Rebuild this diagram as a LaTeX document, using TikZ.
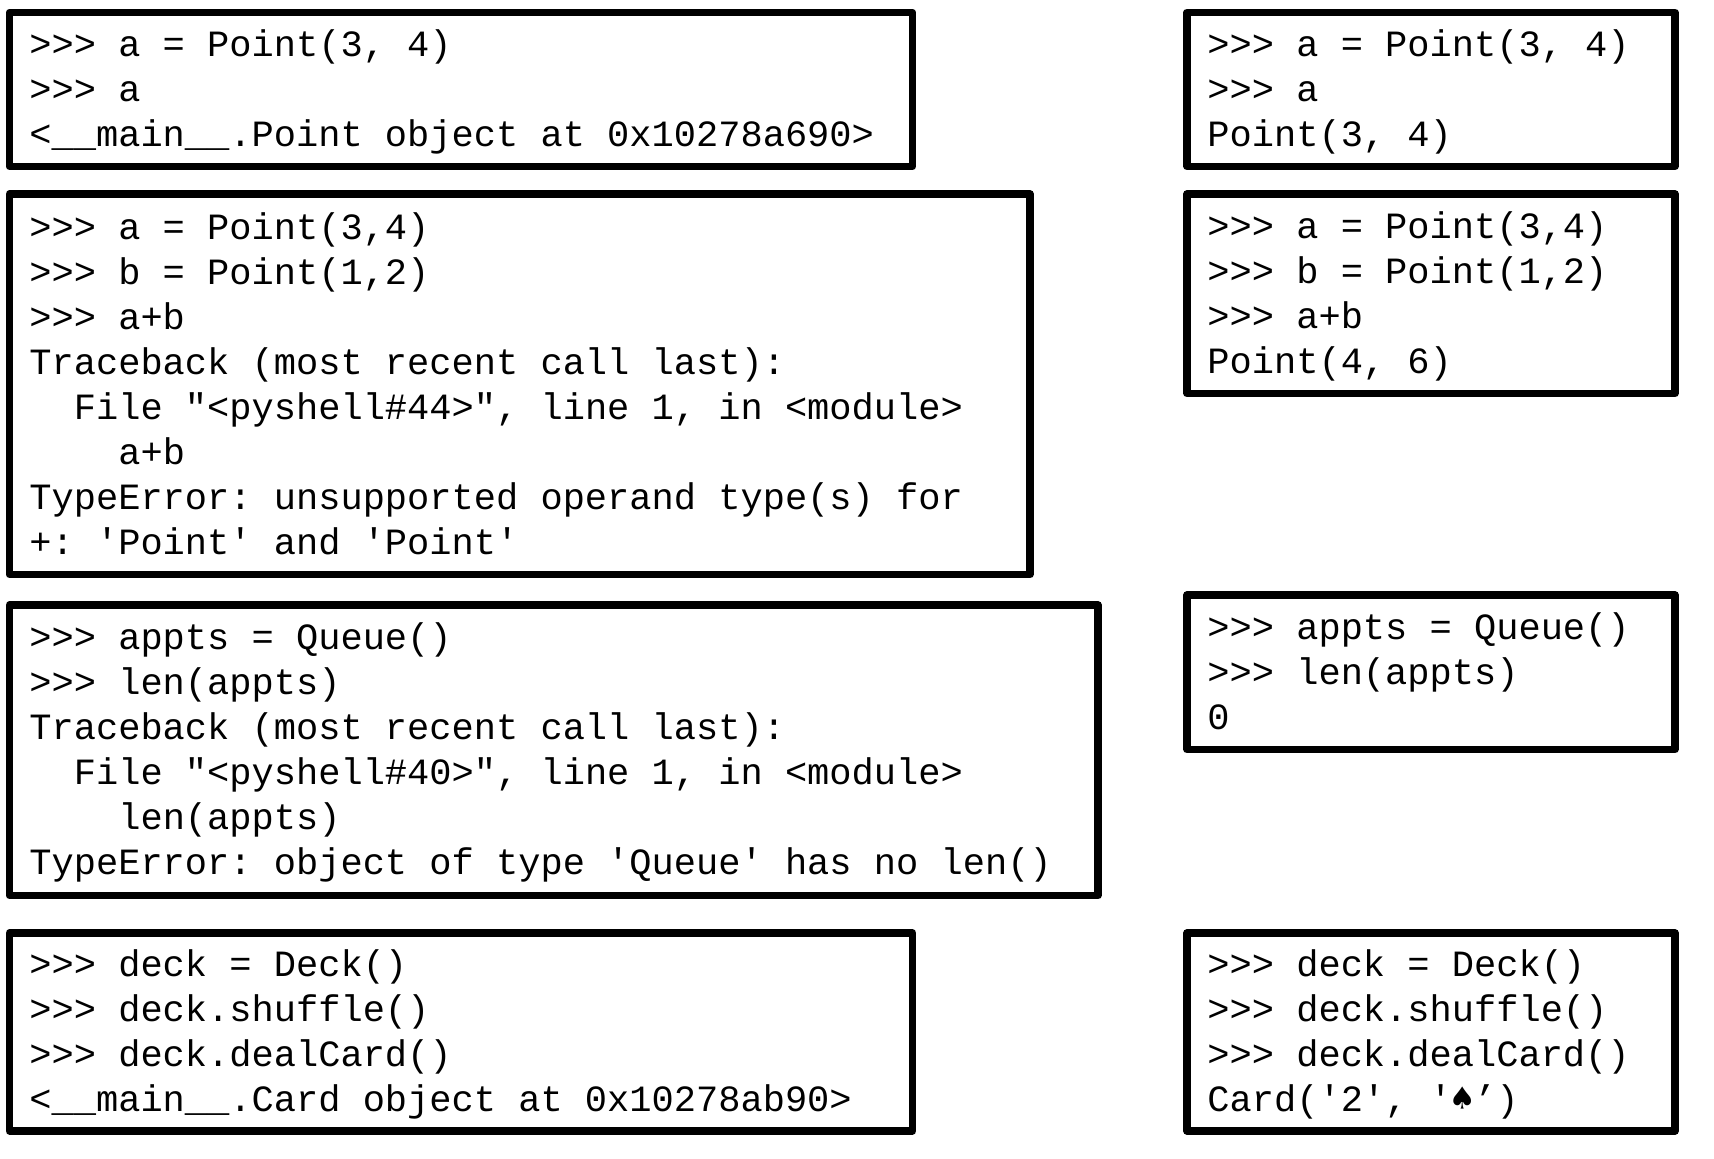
\documentclass[tikz,border=0pt]{standalone}
\usepackage{fontspec}
\newfontfamily\codefont{Liberation Mono}
\newfontfamily\spadefont{DejaVu Sans Mono}
\newcommand\us{\string_}
\newcommand\spade{\makebox[0.6em]{\spadefont ♠}}
\tikzset{
  boxline/.style={line width=3.65pt, line join=round},
  codeline/.style={anchor=base west, inner sep=0pt, font=\codefont\fontsize{18.52pt}{22.5pt}\selectfont\frenchspacing}
}
\begin{document}
\begin{tikzpicture}[x=0.5pt,y=-0.5pt]
\useasboundingbox (0,0) rectangle (1714,1159);
% boxes
\draw[boxline] (9.5,12.5) rectangle (912.5,166.5);
\draw[boxline] (9.5,194) rectangle (1030,574.5);
\draw[boxline] (9.5,605) rectangle (1098,895.5);
\draw[boxline] (9.5,933) rectangle (912.5,1131);
\draw[boxline] (1187,12.5) rectangle (1675,166.5);
\draw[boxline] (1187,194) rectangle (1675,393.5);
\draw[boxline] (1187,595) rectangle (1675,749.5);
\draw[boxline] (1187,933) rectangle (1675,1131);
% left column texts
\foreach \t [count=\i from 0] in {{>>> a = Point(3, 4)},{>>> a},{<\us\us main\us\us.Point object at 0x10278a690>}}
  \node[codeline] (L1-\i) at (29,56.5+45*\i) {\t};
\foreach \t [count=\i from 0] in {{>>> a = Point(3,4)},{>>> b = Point(1,2)},{>>> a+b},{Traceback (most recent call last):},{\ \ File "<pyshell\#44>", line 1, in <module>},{\ \ \ \ a+b},{TypeError: unsupported operand type(s) for},{+: 'Point' and 'Point'}}
  \node[codeline] (L2-\i) at (29,239.5+45*\i) {\t};
\foreach \t [count=\i from 0] in {{>>> appts = Queue()},{>>> len(appts)},{Traceback (most recent call last):},{\ \ File "<pyshell\#40>", line 1, in <module>},{\ \ \ \ len(appts)},{TypeError: object of type 'Queue' has no len()}}
  \node[codeline] (L3-\i) at (29,650+45*\i) {\t};
\foreach \t [count=\i from 0] in {{>>> deck = Deck()},{>>> deck.shuffle()},{>>> deck.dealCard()},{<\us\us main\us\us.Card object at 0x10278ab90>}}
  \node[codeline] (L4-\i) at (29,976.5+45*\i) {\t};
% right column texts
\foreach \t [count=\i from 0] in {{>>> a = Point(3, 4)},{>>> a},{Point(3, 4)}}
  \node[codeline] (R1-\i) at (1207,56.5+45*\i) {\t};
\foreach \t [count=\i from 0] in {{>>> a = Point(3,4)},{>>> b = Point(1,2)},{>>> a+b},{Point(4, 6)}}
  \node[codeline] (R2-\i) at (1207,239+45*\i) {\t};
\foreach \t [count=\i from 0] in {{>>> appts = Queue()},{>>> len(appts)},{0}}
  \node[codeline] (R3-\i) at (1207,639.5+45*\i) {\t};
\foreach \t [count=\i from 0] in {{>>> deck = Deck()},{>>> deck.shuffle()},{>>> deck.dealCard()},{Card('2', '\spade’)}}
  \node[codeline] (R4-\i) at (1207,976.5+45*\i) {\t};
\end{tikzpicture}
\end{document}
